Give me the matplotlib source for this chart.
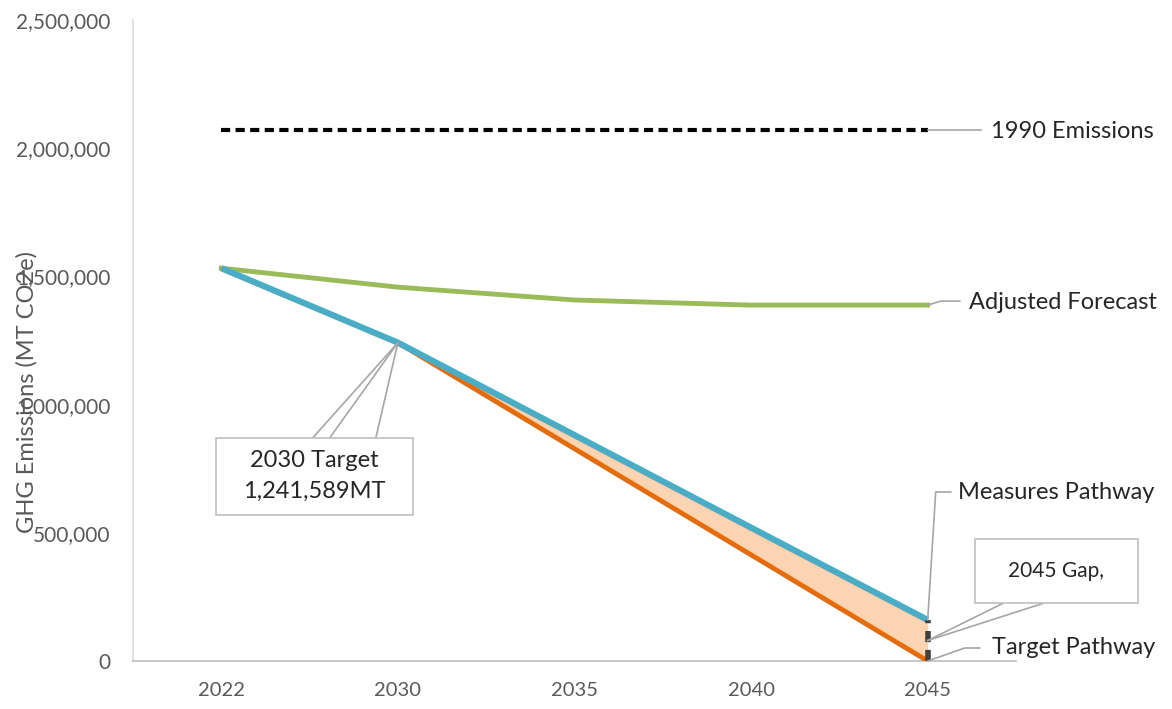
import matplotlib
matplotlib.use("Agg")
import matplotlib.pyplot as plt
import matplotlib.ticker as mticker
from matplotlib.lines import Line2D
from matplotlib.patches import Rectangle

# chart values (MT CO2e)
years = ["2022", "2030", "2035", "2040", "2045"]
emissions_1990 = [2070000, 2070000, 2070000, 2070000, 2070000]
adjusted_forecast = [1532000, 1458000, 1408000, 1388000, 1388000]
measures_pathway = [1532000, 1241589, 881000, 520000, 160000]
target_pathway = [1532000, 1241589, 827726, 413863, 0]
gap_2045 = measures_pathway[-1] - target_pathway[-1]

plt.rcParams['font.family'] = ['Lato', 'DejaVu Sans']
GREY_TXT = '#595959'
LEADER = '#A6A6A6'

W, H = 1172, 709
fig = plt.figure(figsize=(W / 100, H / 100), dpi=100)
ax = fig.add_axes([133 / W, 1 - 661 / H, (1016 - 133) / W, (661 - 20) / H])

x = list(range(len(years)))

# shaded gap between target and measures (2030 onward)
ax.fill_between(x[1:], target_pathway[1:], measures_pathway[1:], color='#FBD4B4', lw=0, zorder=1)
ax.plot(x, target_pathway, color='#E46C0A', lw=3.5, zorder=3, solid_capstyle='butt')
ax.plot(x, measures_pathway, color='#4BACC6', lw=4.5, zorder=4, solid_capstyle='butt')
ax.plot(x, adjusted_forecast, color='#9BBB59', lw=3.5, zorder=3)
ax.plot(x, emissions_1990, color='black', lw=3, ls=(0, (2.2, 1.3)), zorder=3)
ax.plot([x[-1], x[-1]], [target_pathway[-1], measures_pathway[-1]], color='#404040',
        lw=4, ls=(0, (2.0, 1.4)), zorder=5)

ax.set_xlim(-0.5, len(years) - 0.5)
ax.set_ylim(0, 2500000)
ax.set_xticks(x)
ax.set_xticklabels(years)
ax.yaxis.set_major_locator(mticker.MultipleLocator(500000))
ax.yaxis.set_major_formatter(mticker.FuncFormatter(lambda v, p: f"{int(v):,}"))
ax.tick_params(axis='both', length=0, labelsize=14.5, labelcolor=GREY_TXT)
ax.tick_params(axis='y', labelsize=15, pad=16)
ax.tick_params(axis='x', pad=15)
for s in ['top', 'right']:
    ax.spines[s].set_visible(False)
ax.spines['left'].set_color('#D9D9D9')
ax.spines['bottom'].set_color('#BFBFBF')
ax.spines['left'].set_linewidth(1.2)
ax.spines['bottom'].set_linewidth(1.2)
ax.set_ylabel("GHG Emissions (MT CO2e)", fontsize=17, color=GREY_TXT)
ax.yaxis.set_label_coords((38 - 133) / 883, (661 - 392) / 641)

fig.canvas.draw()


def to_fig(xv, yv, dx=0, dy=0):
    px, py = ax.transData.transform((xv, yv))
    return (px + dx) / W, (py - dy) / H


def line(pts):
    fig.add_artist(Line2D([p[0] for p in pts], [p[1] for p in pts], color=LEADER, lw=1.2,
                          transform=fig.transFigure, zorder=6))


def leader(xv, yv, offsets):
    line([to_fig(xv, yv)] + [to_fig(xv, yv, dx, dy) for dx, dy in offsets])


def label(xv, yv, dx, dy, text, ha='left', size=17):
    fx, fy = to_fig(xv, yv, dx, dy)
    fig.text(fx, fy, text, ha=ha, va='center', fontsize=size, color='#262626', zorder=9)


def box(xv, yv, dx, dy, w, h):
    # dx, dy: top-left corner offset in pixels (dy downward)
    rx, ry = to_fig(xv, yv, dx, dy + h)
    fig.add_artist(Rectangle((rx, ry), w / W, h / H, transform=fig.transFigure,
                             facecolor='white', edgecolor='#BFBFBF', lw=1.2, zorder=7))


last = x[-1]
# series labels on the right
leader(last, emissions_1990[-1], [(53, 0)])
label(last, emissions_1990[-1], 63, 1, "1990 Emissions")
leader(last, adjusted_forecast[-1], [(13, -4), (32, -4)])
label(last, adjusted_forecast[-1], 41, -3, "Adjusted Forecast")
leader(last, measures_pathway[-1], [(8, -128), (23, -128)])
label(last, measures_pathway[-1], 30, -127, "Measures Pathway")
leader(last, target_pathway[-1], [(37, -13), (52, -13)])
label(last, target_pathway[-1], 64, -13, "Target Pathway")

# 2045 gap callout
gx, gy = last, target_pathway[-1] + gap_2045 / 2
for dx in (75, 115):
    leader(gx, gy, [(dx, -37)])
box(gx, gy, 47, -101, 163, 64)
label(gx, gy, 47 + 81, -69, "2045 Gap,", ha='center', size=15)

# 2030 target callout
tx, ty = x[1], target_pathway[1]
for dx in (-85, -68, -22):
    leader(tx, ty, [(dx, 95)])
box(tx, ty, -182, 95, 197, 77)
label(tx, ty, -84, 95 + 23, "2030 Target", ha='center', size=17)
label(tx, ty, -84, 95 + 54, "1,241,589MT", ha='center', size=17)

fig.savefig("out.png", dpi=100)
